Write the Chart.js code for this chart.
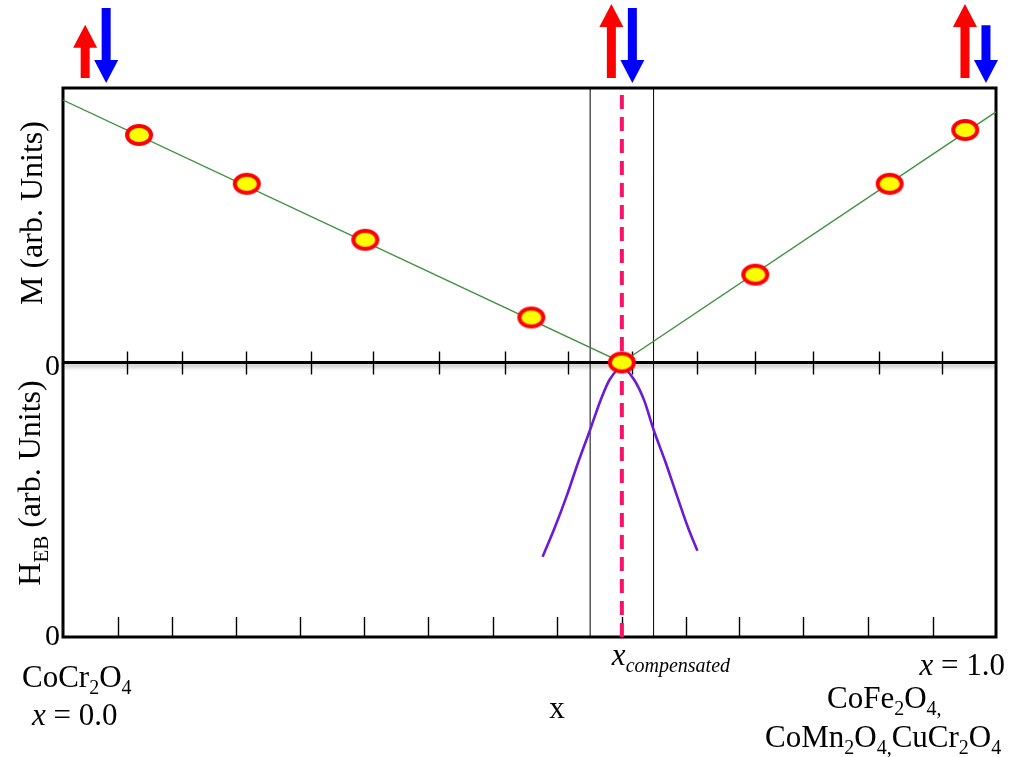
<!DOCTYPE html>
<html>
<head>
<meta charset="utf-8">
<script src="https://cdn.jsdelivr.net/npm/chart.js@4"></script>
<style>
  html, body { margin: 0; padding: 0; background: #fff; }
</style>
</head>
<body>
<canvas id="myChart" width="1013" height="757"></canvas>
<script>

// composition x (0 = CoCr2O4, 1 = end member)
var sampleX = [0.0815, 0.197, 0.324, 0.502, 0.599, 0.742, 0.886, 0.967];
var sampleM = [0.829, 0.651, 0.447, 0.164, 0.0, 0.32, 0.651, 0.847];

// straight-line guide through the magnetization points
var fitX = [0, 0.599, 1];
var fitM = [0.956, 0, 0.913];

// exchange bias field, peaked at the compensation point
var hebX = [0.514, 0.527, 0.540, 0.552, 0.565, 0.576, 0.586, 0.599, 0.612, 0.623, 0.633, 0.646, 0.658, 0.670, 0.680];
var hebV = [0.292, 0.398, 0.515, 0.635, 0.755, 0.861, 0.938, 0.982, 0.938, 0.861, 0.755, 0.635, 0.515, 0.398, 0.314];

var xComp = 0.599;
var windowX = [0.565, 0.633];

// tick positions along the zero line and along the bottom axis
var midTicks = [0.069, 0.128, 0.196, 0.266, 0.332, 0.403, 0.474, 0.541, 0.610, 0.680, 0.742, 0.804, 0.875, 0.942];
var bottomTicks = [0.059, 0.117, 0.185, 0.254, 0.323, 0.391, 0.461, 0.529, 0.599, 0.668, 0.725, 0.793, 0.863, 0.932];

// sublattice moments (up / down) at x = 0, x_comp, x = 1
var spinX = [0.035, 0.599, 0.978];
var spinUp = [0.72, 1, 1];
var spinDown = [1, 1, 0.77];

var SERIF = '"Liberation Serif", "Times New Roman", serif';

function toPoints(xs, ys) {
  return xs.map(function(x, i) { return { x: x, y: ys[i] }; });
}

// yellow ellipse with a red rim for the data points
function ellipseMarker() {
  var c = document.createElement('canvas');
  c.width = 30; c.height = 24;
  var g = c.getContext('2d');
  g.beginPath();
  g.ellipse(15, 12, 12, 9, 0, 0, Math.PI * 2);
  g.fillStyle = '#ffff00';
  g.fill();
  g.lineWidth = 4;
  g.strokeStyle = '#ff0000';
  g.stroke();
  return c;
}

function line(ctx, x1, y1, x2, y2) {
  ctx.beginPath();
  ctx.moveTo(x1, y1);
  ctx.lineTo(x2, y2);
  ctx.stroke();
}

// 'CoCr_2O_4' -> runs with single-character subscripts
function chem(s, italic) {
  var runs = [];
  for (var i = 0; i < s.length; i++) {
    if (s[i] === '_') { runs.push({ t: s[i + 1], sub: true }); i++; }
    else if (runs.length && !runs[runs.length - 1].sub) runs[runs.length - 1].t += s[i];
    else runs.push({ t: s[i], it: italic });
  }
  return runs;
}

function runFont(r, size) {
  var s = r.sub ? Math.round(size * 0.66) : size;
  return (r.it ? 'italic ' : '') + s + 'px ' + SERIF;
}

function richText(ctx, runs, x, y, size, align) {
  var w = 0;
  runs.forEach(function(r) {
    ctx.font = runFont(r, size);
    r.w = ctx.measureText(r.t).width;
    w += r.w;
  });
  var cx = align === 'right' ? x - w : align === 'center' ? x - w / 2 : x;
  runs.forEach(function(r) {
    ctx.font = runFont(r, size);
    ctx.fillText(r.t, cx, y + (r.sub ? size * 0.24 : 0));
    cx += r.w;
  });
}

function arrow(ctx, cx, yTail, yTip, color) {
  var dir = yTip < yTail ? -1 : 1;
  var head = 23, half = 12, shaft = 4.5;
  var yBase = yTip - dir * head;
  ctx.fillStyle = color;
  ctx.beginPath();
  ctx.moveTo(cx - shaft, yTail);
  ctx.lineTo(cx - shaft, yBase);
  ctx.lineTo(cx - half, yBase);
  ctx.lineTo(cx, yTip);
  ctx.lineTo(cx + half, yBase);
  ctx.lineTo(cx + shaft, yBase);
  ctx.lineTo(cx + shaft, yTail);
  ctx.closePath();
  ctx.fill();
}

var framePlugin = {
  id: 'frame',
  beforeDatasetsDraw: function(chart) {
    var ctx = chart.ctx, a = chart.chartArea, sx = chart.scales.x;
    var zeroY = chart.scales.yM.getPixelForValue(0);
    ctx.save();
    ctx.strokeStyle = '#000';
    ctx.lineWidth = 1.4;
    bottomTicks.forEach(function(v) {
      var px = Math.round(sx.getPixelForValue(v)) + 0.5;
      line(ctx, px, a.bottom, px, a.bottom - 20);
    });
    midTicks.forEach(function(v) {
      var px = Math.round(sx.getPixelForValue(v)) + 0.5;
      line(ctx, px, zeroY - 11, px, zeroY + 12);
    });
    ctx.lineWidth = 3;
    ctx.strokeRect(a.left, a.top, a.right - a.left, a.bottom - a.top);
    ctx.shadowColor = 'rgba(0,0,0,0.3)';
    ctx.shadowBlur = 4;
    ctx.shadowOffsetY = 3;
    line(ctx, a.left, zeroY, a.right, zeroY);
    ctx.restore();
  }
};

var labelPlugin = {
  id: 'labels',
  afterDraw: function(chart) {
    var ctx = chart.ctx, a = chart.chartArea, sx = chart.scales.x;
    var zeroY = chart.scales.yM.getPixelForValue(0);
    ctx.save();
    ctx.fillStyle = '#000';
    ctx.textBaseline = 'alphabetic';
    ctx.textAlign = 'left';

    // zero labels of both panels
    richText(ctx, [{ t: '0' }], a.left - 3, zeroY + 12, 30, 'right');
    richText(ctx, [{ t: '0' }], a.left - 3, a.bottom + 8, 30, 'right');

    // y titles
    ctx.save();
    ctx.translate(42, 213);
    ctx.rotate(-Math.PI / 2);
    richText(ctx, [{ t: 'M (arb. Units)' }], 0, 0, 32, 'center');
    ctx.restore();
    ctx.save();
    ctx.translate(40, 483);
    ctx.rotate(-Math.PI / 2);
    richText(ctx, [{ t: 'H' }, { t: 'EB', sub: true }, { t: ' (arb. Units)' }], 0, 0, 32, 'center');
    ctx.restore();

    // end members and axis annotations
    richText(ctx, chem('CoCr_2O_4'), 22, 687, 31, 'left');
    richText(ctx, [{ t: 'x', it: true }, { t: ' = 0.0' }], 32, 725, 31, 'left');
    richText(ctx, [{ t: 'x', it: true }, { t: 'compensated', it: true, sub: true }],
      sx.getPixelForValue(xComp) - 10, 665, 31, 'left');
    richText(ctx, [{ t: 'x' }], 557, 718, 31, 'center');
    richText(ctx, [{ t: 'x', it: true }, { t: ' = 1.0' }], 1005, 675, 31, 'right');
    richText(ctx, chem('CoFe_2O_4_,'), 827, 708, 31, 'left');
    richText(ctx, chem('CoMn_2O_4_,CuCr_2O_4'), 765, 747, 31, 'left');

    // spin arrows above the frame
    spinX.forEach(function(v, i) {
      var cx = sx.getPixelForValue(v);
      var redTail = a.top - 10, blueTip = a.top - 5;
      arrow(ctx, cx - 10.5, redTail, redTail - 74 * spinUp[i], '#ff0000');
      arrow(ctx, cx + 10.5, blueTip - 75 * spinDown[i], blueTip, '#0000ff');
    });
    ctx.restore();
  }
};

var marker = ellipseMarker();

var datasets = [
  {
    label: 'M',
    data: toPoints(sampleX, sampleM),
    yAxisID: 'yM',
    pointStyle: marker,
    pointRadius: 12,
    showLine: false,
    clip: false,
    order: 0
  },
  {
    label: 'guide',
    data: toPoints(fitX, fitM),
    yAxisID: 'yM',
    showLine: true,
    borderColor: '#3f913f',
    borderWidth: 1.4,
    pointRadius: 0,
    order: 2
  },
  {
    label: 'HEB',
    data: toPoints(hebX, hebV),
    yAxisID: 'yH',
    showLine: true,
    cubicInterpolationMode: 'monotone',
    borderColor: '#6a1bd6',
    borderWidth: 2.6,
    pointRadius: 0,
    order: 2
  },
  {
    label: 'x_comp',
    data: [{ x: xComp, y: -1 }, { x: xComp, y: 1 }],
    yAxisID: 'yM',
    showLine: true,
    borderColor: '#ff1068',
    borderWidth: 4,
    borderDash: [14, 8],
    pointRadius: 0,
    order: 1
  }
];

windowX.forEach(function(v) {
  datasets.push({
    label: 'window',
    data: [{ x: v, y: -1 }, { x: v, y: 1 }],
    yAxisID: 'yM',
    showLine: true,
    borderColor: '#000',
    borderWidth: 1,
    pointRadius: 0,
    order: 3
  });
});

var ctx = document.getElementById('myChart').getContext('2d');
var myChart = new Chart(ctx, {
  type: 'scatter',
  data: { datasets: datasets },
  options: {
    responsive: false,
    animation: false,
    layout: { padding: { left: 63, right: 17, top: 88, bottom: 120 } },
    plugins: {
      legend: { display: false },
      tooltip: { enabled: false }
    },
    scales: {
      x: { type: 'linear', min: 0, max: 1, display: false },
      yM: { type: 'linear', min: -1, max: 1, display: false },
      yH: { type: 'linear', min: 0, max: 2, display: false }
    }
  },
  plugins: [framePlugin, labelPlugin]
});
</script>
</body>
</html>
